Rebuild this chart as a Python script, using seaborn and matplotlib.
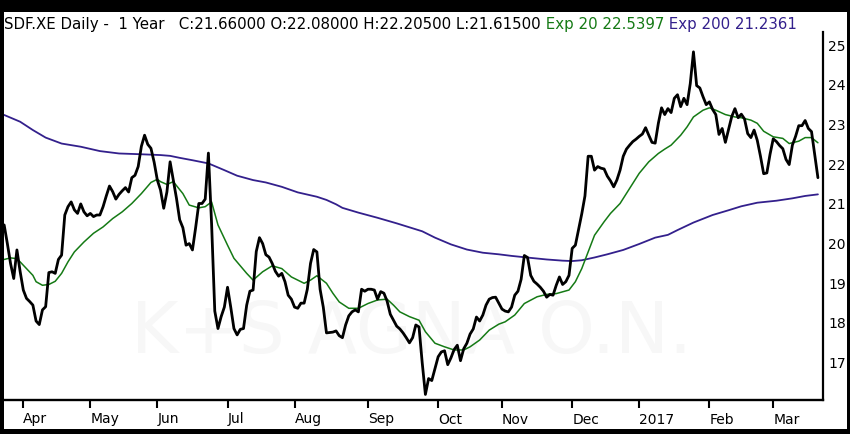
import numpy as np
import pandas as pd
import matplotlib
matplotlib.use("Agg")
import matplotlib.pyplot as plt
import seaborn as sns
from matplotlib.patches import Rectangle

# XETRA sessions shown on the chart (22 Mar 2016 - 21 Mar 2017)
START, END = "2016-03-22", "2017-03-21"
HOLIDAYS = ["2016-03-25", "2016-03-28", "2016-05-16", "2016-10-03", "2016-12-26"]

# daily close, one value per session
close = [
    20.47, 20.0, 19.5, 19.12, 19.84, 19.3, 18.83, 18.62, 18.54, 18.45,
    18.05, 17.96, 18.33, 18.41, 19.27, 19.29, 19.25, 19.6, 19.71, 20.72,
    20.93, 21.05, 20.85, 20.76, 21.0, 20.8, 20.7, 20.76, 20.68, 20.72,
    20.72, 20.93, 21.2, 21.45, 21.31, 21.12, 21.24, 21.33, 21.41, 21.3,
    21.66, 21.72, 21.94, 22.45, 22.73, 22.5, 22.4, 22.05, 21.6, 21.35,
    20.89, 21.3, 22.06, 21.6, 21.14, 20.6, 20.4, 19.96, 20.0, 19.84,
    20.4, 21.01, 21.01, 21.12, 22.28, 20.5, 18.3, 17.86, 18.16, 18.4,
    18.9, 18.4, 17.86, 17.7, 17.84, 17.86, 18.45, 18.8, 18.83, 19.8,
    20.15, 20.0, 19.72, 19.66, 19.5, 19.3, 19.18, 19.25, 19.04, 18.7,
    18.6, 18.4, 18.37, 18.5, 18.5, 18.85, 19.5, 19.85, 19.79, 18.85,
    18.4, 17.75, 17.76, 17.77, 17.8, 17.68, 17.63, 17.95, 18.18, 18.28,
    18.33, 18.28, 18.85, 18.8, 18.85, 18.85, 18.83, 18.6, 18.79, 18.75,
    18.55, 18.22, 18.07, 17.92, 17.85, 17.75, 17.63, 17.5, 17.63, 17.95,
    17.9, 17.0, 16.2, 16.6, 16.55, 16.85, 17.15, 17.27, 17.3, 16.95,
    17.12, 17.33, 17.44, 17.05, 17.35, 17.49, 17.72, 17.85, 18.15, 18.05,
    18.2, 18.45, 18.6, 18.64, 18.65, 18.5, 18.35, 18.3, 18.28, 18.4,
    18.7, 18.8, 19.1, 19.7, 19.65, 19.2, 19.05, 18.98, 18.9, 18.8,
    18.65, 18.72, 18.7, 18.95, 19.16, 18.97, 19.04, 19.2, 19.88, 19.96,
    20.36, 20.75, 21.2, 22.2, 22.2, 21.85, 21.94, 21.9, 21.88, 21.7,
    21.58, 21.43, 21.6, 21.85, 22.2, 22.38, 22.48, 22.57, 22.63, 22.7,
    22.76, 22.92, 22.73, 22.55, 22.53, 23.03, 23.42, 23.25, 23.4, 23.3,
    23.66, 23.75, 23.45, 23.66, 23.5, 24.03, 24.83, 23.98, 23.92, 23.7,
    23.5, 23.57, 23.38, 23.25, 22.75, 22.9, 22.55, 22.88, 23.2, 23.4,
    23.17, 23.26, 23.14, 22.77, 22.67, 22.86, 22.6, 22.2, 21.76, 21.78,
    22.25, 22.64, 22.57, 22.47, 22.39, 22.12, 21.99, 22.48, 22.7, 22.97,
    22.97, 23.1, 22.9, 22.82, 22.25, 21.66,
]
last_open, last_high, last_low = 22.08, 22.205, 21.615

# exponential averages at these session numbers
ema20_session = [
    0, 2, 4, 5, 7, 9, 10, 12, 14, 16, 18, 20, 22, 25, 28, 31, 34, 37, 40, 43,
    46, 48, 49, 51, 53, 56, 58, 61, 63, 65, 67, 70, 72, 76, 78, 81, 84, 87, 90, 94,
    96, 98, 101, 103, 105, 108, 111, 114, 117, 120, 122, 124, 127, 130, 132, 135,
    138, 141, 144, 146, 149, 152, 155, 157, 160, 163, 167, 170, 173, 177, 179, 181,
    183, 185, 188, 190, 193, 196, 199, 202, 205, 207, 209, 212, 214, 216, 219, 221,
    223, 226, 229, 231, 234, 236, 238, 241, 244, 246, 249, 251, 253, 255,
]
ema20 = [
    19.6, 19.64, 19.62, 19.54, 19.37, 19.2, 19.04, 18.95, 18.97, 19.05, 19.25, 19.54,
    19.79, 20.04, 20.26, 20.42, 20.63, 20.8, 21.01, 21.26, 21.54, 21.62, 21.56, 21.49,
    21.56, 21.26, 20.97, 20.9, 20.93, 21.05, 20.47, 19.96, 19.63, 19.25, 19.08, 19.29,
    19.44, 19.37, 19.16, 19.0, 19.08, 19.19, 19.0, 18.75, 18.53, 18.37, 18.37, 18.49,
    18.58, 18.6, 18.45, 18.28, 18.16, 18.07, 17.78, 17.49, 17.4, 17.32, 17.32, 17.4,
    17.57, 17.82, 17.97, 18.03, 18.2, 18.49, 18.66, 18.72, 18.74, 18.83, 19.04, 19.37,
    19.79, 20.21, 20.55, 20.76, 21.01, 21.39, 21.77, 22.06, 22.27, 22.38, 22.48, 22.73,
    22.94, 23.19, 23.36, 23.42, 23.36, 23.25, 23.19, 23.17, 23.11, 23.03, 22.83, 22.69,
    22.65, 22.52, 22.58, 22.67, 22.67, 22.54,
]
ema200_session = [
    0, 5, 9, 13, 18, 24, 30, 36, 43, 49, 52, 55, 59, 64, 69, 73, 78, 82, 87, 92,
    98, 101, 104, 106, 111, 117, 123, 131, 135, 140, 145, 150, 155, 159, 165, 170,
    175, 178, 181, 185, 189, 194, 199, 204, 208, 211, 216, 222, 227, 231, 236, 242,
    247, 251, 255,
]
ema200 = [
    23.24, 23.07, 22.86, 22.67, 22.52, 22.44, 22.33, 22.27, 22.25, 22.23, 22.21, 22.16,
    22.1, 22.02, 21.85, 21.71, 21.6, 21.54, 21.43, 21.29, 21.18, 21.1, 20.99, 20.9,
    20.78, 20.65, 20.51, 20.31, 20.15, 19.98, 19.85, 19.77, 19.73, 19.69, 19.64, 19.6,
    19.57, 19.56, 19.58, 19.65, 19.73, 19.84, 19.99, 20.15, 20.22, 20.34, 20.53, 20.72,
    20.84, 20.94, 21.03, 21.08, 21.14, 21.2, 21.24,
]
# last values as printed in the header
ema20_last, ema200_last = 22.5397, 21.2361
price_ticks = [17, 18, 19, 20, 21, 22, 23, 24, 25]

GREEN = "#157a15"
PURPLE = "#33208c"

sns.set_style("white")
plt.rcParams["font.family"] = "DejaVu Sans"

sessions = pd.bdate_range(START, END, freq="C", holidays=HOLIDAYS)
prices = pd.DataFrame({"session": np.arange(len(close)), "close": close})
avg20 = pd.DataFrame({"session": ema20_session, "value": ema20})
avg200 = pd.DataFrame({"session": ema200_session, "value": ema200})

# first session of every month gets a tick, January shows the year
dates = pd.Series(sessions[:len(close)])
firsts = dates.groupby(dates.dt.to_period("M")).head(1).iloc[1:]
tick_pos = list(firsts.index)
tick_lab = [d.strftime("%Y") if d.month == 1 else d.strftime("%b") for d in firsts]

W, H = 850, 434
fig = plt.figure(figsize=(W / 100, H / 100), dpi=100)
fig.patch.set_facecolor("black")
fig.add_artist(Rectangle((4 / W, 5 / H), 843 / W, 417 / H, transform=fig.transFigure,
                         facecolor="white", edgecolor="none", zorder=-5))

ax = fig.add_axes([4 / W, 34 / H, 818.7 / W, 368 / H])
ax.set_facecolor("white")

ax.text(0.498, 0.182, "K+S AGNA O.N.", transform=ax.transAxes, fontsize=52,
        color="#f7f7f7", ha="center", va="center", zorder=0)

sns.lineplot(data=avg200, x="session", y="value", ax=ax, color=PURPLE,
             linewidth=1.3, errorbar=None, zorder=2)
sns.lineplot(data=avg20, x="session", y="value", ax=ax, color=GREEN,
             linewidth=1.1, errorbar=None, zorder=3)
sns.lineplot(data=prices, x="session", y="close", ax=ax, color="black",
             linewidth=2.0, errorbar=None, zorder=4)

ax.set_xlim(-0.05, 256.5)
ax.set_ylim(16.06, 25.33)
ax.set_xlabel("")
ax.set_ylabel("")

ax.yaxis.tick_right()
ax.set_yticks(price_ticks)
ax.set_yticklabels([str(t) for t in price_ticks])
ax.tick_params(axis="y", left=False, right=False, length=0, pad=4,
               labelsize=10, colors="black")

ax.set_xticks(tick_pos)
ax.set_xticklabels(tick_lab, ha="left")
ax.tick_params(axis="x", bottom=True, direction="out", length=6, width=1.5,
               pad=3, labelsize=10, colors="black")

for side in ["top", "left"]:
    ax.spines[side].set_visible(False)
ax.spines["right"].set_linewidth(1.6)
ax.spines["bottom"].set_linewidth(1.7)
ax.spines["right"].set_color("black")
ax.spines["bottom"].set_color("black")

header = (f"SDF.XE Daily -  1 Year   C:{close[-1]:.5f} O:{last_open:.5f} "
          f"H:{last_high:.5f} L:{last_low:.5f}")
t1 = fig.text(4.5 / W, (H - 29.5) / H, header, fontsize=10.8, color="black",
              va="baseline")
t2 = ax.annotate(f" Exp 20 {ema20_last:.4f}", xy=(1, 0), xycoords=t1,
                 va="bottom", fontsize=10.8, color=GREEN, annotation_clip=False)
ax.annotate(f" Exp 200 {ema200_last:.4f}", xy=(1, 0), xycoords=t2,
            va="bottom", fontsize=10.8, color=PURPLE, annotation_clip=False)

fig.savefig("out.png", dpi=100, facecolor=fig.get_facecolor())
